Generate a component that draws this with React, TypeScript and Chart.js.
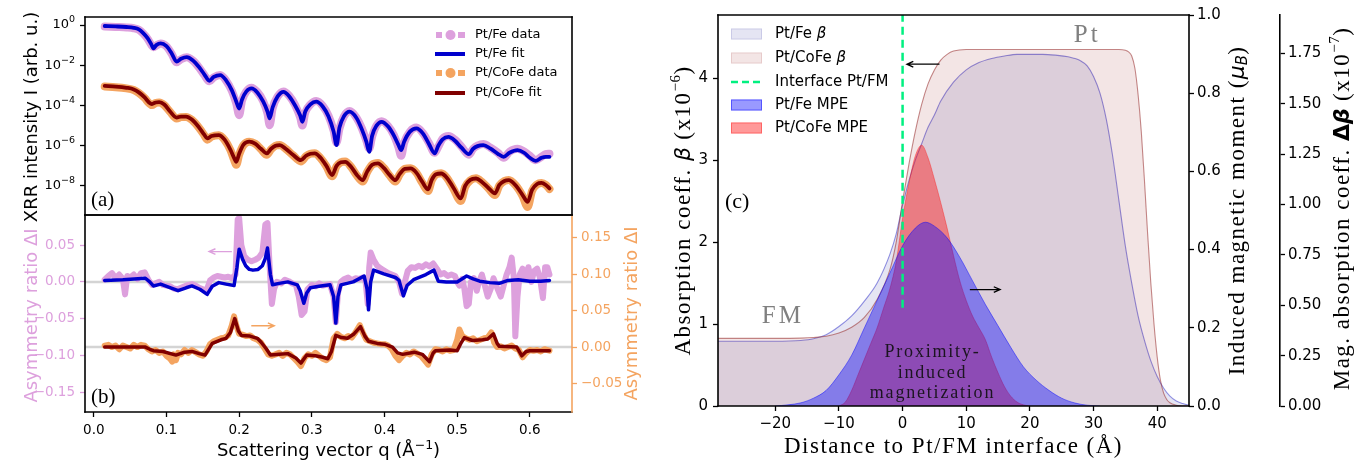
import React, { useEffect, useRef } from 'react';
import { Chart, registerables } from 'chart.js';

Chart.register(...registerables);

const SANS = '"DejaVu Sans", sans-serif';
const SERIF = '"Liberation Serif", "DejaVu Serif", serif';
const PLUM = '#dda0dd';
const SANDY = '#f4a460';
const FIT_BLUE = '#0000cd';
const FIT_RED = '#800000';
const MINUS = '\u2212';

// ---------------- Panel (a): XRR intensity (log10 of I) ----------------
const qFe = [0.015,0.03,0.045,0.055,0.062,0.068,0.074,0.079,0.082,0.086,
  0.092,0.1,0.107,0.114,0.12,0.128,0.136,0.145,0.152,0.159,
  0.165,0.174,0.182,0.19,0.196,0.2,0.204,0.21,0.217,0.225,
  0.233,0.239,0.242,0.246,0.253,0.261,0.269,0.277,0.284,0.287,
  0.291,0.298,0.306,0.315,0.323,0.33,0.334,0.338,0.344,0.352,
  0.361,0.369,0.375,0.379,0.383,0.389,0.396,0.405,0.413,0.419,
  0.423,0.427,0.435,0.444,0.453,0.461,0.469,0.474,0.48,0.488,
  0.497,0.506,0.516,0.522,0.528,0.536,0.546,0.556,0.564,0.572,
  0.583,0.592,0.6,0.608,0.616,0.622,0.627];
const feFitExp = [-0.05,-0.07,-0.10,-0.14,-0.22,-0.40,-0.65,-0.95,-1.16,-1.00,
  -0.91,-1.05,-1.40,-1.82,-1.68,-1.60,-1.75,-2.10,-2.45,-2.77,
  -2.58,-2.49,-2.75,-3.25,-3.80,-4.15,-3.70,-3.30,-3.15,-3.35,
  -3.80,-4.30,-4.64,-4.10,-3.55,-3.32,-3.55,-4.00,-4.50,-4.81,
  -4.30,-3.95,-3.81,-4.05,-4.55,-5.30,-5.97,-5.10,-4.55,-4.31,
  -4.60,-5.20,-5.80,-6.30,-5.50,-5.00,-4.81,-5.05,-5.50,-5.95,
  -6.22,-5.80,-5.30,-5.14,-5.40,-5.90,-6.38,-6.00,-5.68,-5.56,
  -5.75,-6.10,-6.42,-6.15,-6.02,-5.97,-6.15,-6.40,-6.55,-6.35,
  -6.22,-6.35,-6.60,-6.75,-6.60,-6.55,-6.55];
const feDataExp = [-0.08,-0.10,-0.12,-0.16,-0.24,-0.42,-0.68,-0.98,-1.10,-1.02,
  -0.92,-1.06,-1.42,-1.85,-1.70,-1.60,-1.76,-2.12,-2.48,-2.80,
  -2.60,-2.48,-2.76,-3.28,-3.90,-4.48,-3.75,-3.30,-3.12,-3.33,
  -3.78,-4.40,-4.98,-4.15,-3.55,-3.30,-3.52,-3.98,-4.60,-5.00,
  -4.35,-3.95,-3.78,-4.02,-4.52,-5.25,-5.85,-5.15,-4.55,-4.28,
  -4.58,-5.15,-5.75,-6.15,-5.55,-5.00,-4.78,-5.02,-5.48,-6.05,
  -6.50,-5.85,-5.30,-5.10,-5.38,-5.85,-6.35,-6.05,-5.65,-5.52,
  -5.70,-6.05,-6.45,-6.15,-6.00,-5.92,-6.10,-6.35,-6.60,-6.30,
  -6.15,-6.28,-6.50,-6.72,-6.55,-6.42,-6.40];
const qCoFe = [0.015,0.03,0.045,0.055,0.062,0.07,0.076,0.08,0.085,0.09,
  0.097,0.105,0.114,0.12,0.127,0.135,0.145,0.152,0.156,0.162,
  0.172,0.18,0.188,0.193,0.196,0.2,0.206,0.214,0.222,0.23,
  0.238,0.244,0.25,0.256,0.264,0.274,0.285,0.292,0.298,0.304,
  0.312,0.32,0.328,0.334,0.34,0.346,0.354,0.362,0.37,0.376,
  0.383,0.391,0.399,0.407,0.415,0.421,0.428,0.436,0.444,0.452,
  0.46,0.465,0.471,0.478,0.486,0.495,0.505,0.511,0.518,0.526,
  0.534,0.543,0.552,0.558,0.565,0.571,0.58,0.59,0.597,0.603,
  0.61,0.616,0.622,0.627];
const cofeFitExp = [-3.03,-3.06,-3.12,-3.20,-3.35,-3.60,-3.85,-3.93,-3.85,-3.83,
  -3.95,-4.30,-4.60,-4.55,-4.55,-4.70,-5.10,-5.45,-5.64,-5.52,
  -5.47,-5.70,-6.20,-6.60,-6.80,-6.40,-5.95,-5.80,-5.90,-6.15,
  -6.38,-6.15,-6.00,-5.97,-6.15,-6.45,-6.72,-6.50,-6.40,-6.38,
  -6.60,-7.00,-7.46,-7.00,-6.82,-6.80,-7.05,-7.45,-7.71,-7.30,
  -6.95,-6.88,-7.10,-7.45,-7.71,-7.40,-7.15,-7.13,-7.35,-7.80,
  -8.17,-7.70,-7.42,-7.38,-7.60,-8.10,-8.62,-8.00,-7.70,-7.63,
  -7.80,-8.10,-8.37,-7.95,-7.75,-7.71,-7.95,-8.45,-8.79,-8.20,
  -7.90,-7.85,-7.95,-8.12];
const cofeDataExp = [-3.06,-3.09,-3.15,-3.23,-3.38,-3.63,-3.88,-3.98,-3.88,-3.85,
  -3.98,-4.32,-4.65,-4.58,-4.57,-4.72,-5.12,-5.48,-5.70,-5.55,
  -5.48,-5.72,-6.22,-6.70,-6.95,-6.45,-5.97,-5.80,-5.90,-6.17,
  -6.45,-6.18,-6.00,-5.96,-6.15,-6.47,-6.78,-6.52,-6.40,-6.37,
  -6.62,-7.02,-7.52,-7.02,-6.82,-6.78,-7.05,-7.48,-7.78,-7.32,
  -6.95,-6.86,-7.10,-7.48,-7.78,-7.42,-7.15,-7.12,-7.35,-7.85,
  -8.25,-7.72,-7.42,-7.37,-7.60,-8.15,-8.75,-8.05,-7.72,-7.62,
  -7.80,-8.12,-8.45,-7.98,-7.75,-7.70,-7.95,-8.50,-9.04,-8.25,
  -7.92,-7.85,-7.95,-8.15];
const xrrTickExps = [0, -2, -4, -6, -8];

// ---------------- Panel (b): asymmetry ratio ----------------
const qFeAsymData = [0.015,0.02,0.025,0.03,0.035,0.04,0.043,0.046,0.05,0.055,
  0.06,0.065,0.07,0.075,0.08,0.085,0.09,0.095,0.1,0.105,
  0.11,0.115,0.12,0.125,0.13,0.135,0.14,0.145,0.15,0.155,
  0.16,0.165,0.17,0.175,0.18,0.185,0.19,0.195,0.198,0.2,
  0.203,0.207,0.212,0.217,0.222,0.227,0.232,0.236,0.239,0.242,
  0.245,0.248,0.252,0.258,0.263,0.268,0.273,0.278,0.282,0.286,
  0.29,0.294,0.3,0.305,0.31,0.315,0.32,0.325,0.33,0.333,
  0.336,0.34,0.345,0.35,0.355,0.36,0.365,0.37,0.374,0.377,
  0.379,0.381,0.385,0.39,0.395,0.4,0.405,0.41,0.415,0.42,
  0.424,0.428,0.432,0.437,0.442,0.447,0.452,0.457,0.462,0.467,
  0.472,0.477,0.482,0.487,0.492,0.497,0.5,0.503,0.507,0.51,
  0.513,0.516,0.519,0.523,0.527,0.53,0.534,0.538,0.542,0.546,
  0.55,0.555,0.56,0.564,0.568,0.572,0.575,0.578,0.58,0.583,
  0.586,0.59,0.594,0.598,0.602,0.606,0.61,0.614,0.618,0.621,
  0.624,0.627];
const feAsymData = [0.003,0.008,0.012,0.005,0.01,0.004,-0.017,0.008,0.006,0.01,
  0.004,0.012,0.013,0.003,-0.004,-0.002,0.0,-0.004,-0.005,-0.006,
  -0.009,-0.01,-0.008,-0.006,-0.004,-0.003,-0.005,-0.008,-0.01,-0.012,
  0.002,0.006,0.008,0.007,0.006,0.007,0.005,0.01,0.085,0.087,
  0.05,0.035,0.03,0.028,0.03,0.033,0.04,0.078,0.08,0.02,
  -0.03,-0.01,0.0,-0.002,0.003,0.001,-0.002,-0.004,-0.02,-0.045,
  -0.04,-0.01,-0.004,-0.006,-0.002,-0.005,-0.004,-0.003,-0.02,-0.055,
  -0.015,0.0,0.004,0.006,0.002,0.005,0.004,0.006,0.0,-0.03,
  0.02,0.04,0.03,0.022,0.018,0.015,0.012,0.01,0.008,0.0,
  -0.016,0.0,0.015,0.02,0.019,0.022,0.02,0.024,0.021,0.025,
  0.018,0.01,0.012,0.008,0.01,0.008,0.0,-0.005,0.004,-0.01,
  -0.033,-0.03,0.0,0.005,-0.012,0.0,0.01,-0.005,-0.02,-0.01,
  0.005,-0.008,-0.02,-0.005,0.01,0.02,0.033,0.005,-0.074,-0.02,
  0.01,0.018,0.005,0.02,0.0,0.015,0.018,0.005,-0.022,0.02,
  0.02,0.01];
const qFeAsymFit = [0.015,0.04,0.071,0.077,0.082,0.092,0.103,0.116,0.127,0.135,
  0.146,0.156,0.163,0.172,0.182,0.193,0.197,0.2,0.205,0.209,
  0.214,0.219,0.226,0.232,0.236,0.239,0.243,0.246,0.255,0.267,
  0.28,0.284,0.289,0.293,0.298,0.31,0.325,0.33,0.333,0.336,
  0.34,0.357,0.372,0.376,0.378,0.381,0.385,0.399,0.415,0.42,
  0.426,0.431,0.44,0.457,0.468,0.474,0.485,0.5,0.513,0.522,
  0.531,0.545,0.558,0.57,0.584,0.6,0.615,0.627];
const feAsymFit = [0.002,0.003,0.005,0.0,-0.0055,-0.003,-0.007,-0.012,-0.008,-0.0055,
  -0.01,-0.017,-0.006,-0.001,-0.003,-0.005,0.02,0.0445,0.03,0.022,
  0.017,0.016,0.017,0.022,0.032,0.046,0.01,-0.004,-0.002,0.0,
  -0.004,-0.012,-0.029,-0.015,-0.008,-0.006,-0.004,-0.02,-0.056,-0.02,
  -0.004,0.0,0.008,-0.01,-0.038,0.0,0.016,0.011,0.006,0.002,
  -0.019,-0.005,0.003,0.01,0.016,0.001,0.0,0.0,0.008,0.004,
  0.001,-0.001,-0.002,0.002,0.003,0.001,0.001,0.002];
const qCoFeAsymData = [0.015,0.02,0.025,0.03,0.035,0.04,0.045,0.05,0.055,0.06,
  0.065,0.07,0.075,0.08,0.085,0.09,0.095,0.1,0.105,0.108,
  0.11,0.113,0.116,0.12,0.125,0.13,0.135,0.14,0.145,0.15,
  0.155,0.16,0.165,0.17,0.175,0.18,0.185,0.19,0.193,0.196,
  0.2,0.205,0.21,0.215,0.22,0.225,0.23,0.235,0.24,0.245,
  0.25,0.255,0.26,0.265,0.27,0.275,0.28,0.285,0.29,0.295,
  0.3,0.305,0.31,0.315,0.32,0.325,0.33,0.335,0.34,0.345,
  0.35,0.355,0.36,0.366,0.37,0.375,0.38,0.385,0.39,0.395,
  0.4,0.405,0.41,0.415,0.42,0.425,0.43,0.435,0.44,0.445,
  0.45,0.455,0.46,0.465,0.47,0.475,0.48,0.485,0.49,0.495,
  0.5,0.503,0.507,0.512,0.517,0.522,0.527,0.532,0.537,0.542,
  0.547,0.551,0.555,0.56,0.565,0.57,0.575,0.58,0.585,0.59,
  0.595,0.6,0.605,0.61,0.615,0.62,0.627];
const cofeAsymData = [0.002,0.003,0.0,0.002,-0.003,0.002,0.0,-0.002,0.003,0.0,
  0.003,0.002,-0.003,-0.006,-0.004,-0.008,-0.006,-0.012,-0.016,-0.02,
  -0.01,-0.018,-0.008,-0.01,-0.004,-0.008,-0.004,-0.007,-0.01,-0.012,
  -0.006,0.004,0.008,0.01,0.012,0.013,0.016,0.03,0.042,0.03,
  0.018,0.017,0.015,0.016,0.012,0.01,0.006,-0.002,-0.01,-0.012,
  -0.01,-0.008,-0.012,-0.008,-0.01,-0.015,-0.02,-0.026,-0.015,-0.01,
  -0.012,-0.008,-0.012,-0.016,-0.018,-0.014,0.012,0.018,0.014,0.012,
  0.015,0.013,0.02,0.03,0.02,0.01,0.008,0.006,0.005,0.004,
  0.004,0.002,-0.003,-0.012,-0.018,-0.012,-0.008,-0.01,-0.006,-0.009,
  -0.012,-0.018,-0.024,-0.01,-0.003,-0.004,-0.006,-0.003,-0.005,-0.004,
  0.01,0.024,0.015,0.012,0.01,0.012,0.008,0.01,0.012,0.013,
  0.02,0.006,0.0,0.001,-0.002,0.0,0.002,-0.002,-0.004,-0.014,
  -0.008,-0.004,-0.005,-0.004,-0.006,-0.003,-0.005];
const qCoFeAsymFit = [0.015,0.071,0.077,0.082,0.095,0.113,0.125,0.135,0.145,0.153,
  0.163,0.175,0.182,0.188,0.194,0.199,0.203,0.215,0.225,0.23,
  0.237,0.243,0.255,0.267,0.278,0.285,0.293,0.305,0.315,0.322,
  0.327,0.333,0.341,0.349,0.358,0.367,0.373,0.378,0.39,0.4,
  0.411,0.418,0.425,0.441,0.452,0.462,0.467,0.47,0.49,0.5,
  0.505,0.51,0.521,0.535,0.542,0.55,0.555,0.558,0.582,0.589,
  0.595,0.6,0.627];
const cofeAsymFit = [0.0,0.0,-0.003,-0.005,-0.006,-0.011,-0.007,-0.006,-0.009,-0.011,
  0.005,0.01,0.012,0.02,0.039,0.022,0.016,0.015,0.012,0.007,
  -0.002,-0.011,-0.01,-0.009,-0.015,-0.022,-0.011,-0.012,-0.014,-0.016,
  -0.006,0.016,0.013,0.012,0.018,0.028,0.015,0.008,0.005,0.004,
  0.0,-0.008,-0.01,-0.007,-0.01,-0.02,-0.008,-0.005,-0.004,-0.005,
  0.005,0.013,0.009,0.01,0.011,0.018,0.005,0.001,0.0,-0.012,
  -0.006,-0.005,-0.005];

// ---------------- Panel (c): depth profiles ----------------
const xFeBeta = [-29,-24,-20,-16,-14,-12,-10,-8,-6,-4,-2,-1,0,1,2,3,4,5,6,8,
  10,12,14,16,18,20,22,24,26,28,29,30,31,32,33,34,35,36,37,38,39,40,41,42,43,44,45];
const feBeta = [0.79,0.79,0.79,0.80,0.82,0.87,0.97,1.10,1.28,1.50,1.85,2.10,2.45,2.75,3.00,3.20,3.40,3.55,3.72,3.95,
  4.10,4.19,4.24,4.27,4.29,4.29,4.29,4.28,4.26,4.21,4.15,4.02,3.82,3.50,3.05,2.50,1.95,1.50,1.10,0.80,0.55,0.36,0.22,0.12,0.06,0.03,0.01];
const xCoFeBeta = [-29,-20,-16,-14,-12,-10,-8,-6,-4,-2,-1,0,1,2,3,4,5,6,7,8,
  10,15,20,25,30,34,35,35.5,36,36.5,37,37.5,38,38.5,39,39.5,40,40.5,41,41.5,42,43,44,45];
const cofeBeta = [0.825,0.825,0.828,0.835,0.85,0.89,0.96,1.08,1.30,1.66,2.00,2.50,2.95,3.35,3.68,3.93,4.10,4.22,4.29,4.33,
  4.35,4.35,4.35,4.35,4.35,4.35,4.34,4.32,4.27,4.12,3.80,3.35,2.75,2.10,1.50,1.00,0.60,0.32,0.16,0.08,0.04,0.01,0.0,0.0];
const xCoFeMPE = [-10,-9,-8,-7,-6,-5,-4,-3,-2,-1,0,1,2,3,4,5,6,7,8,9,10,11,12,13,14,15,16,17,18,19,20];
const cofeMPE = [0,0.01,0.04,0.08,0.12,0.16,0.2,0.25,0.3,0.37,0.48,0.57,0.64,0.667,0.635,0.58,0.52,0.455,0.385,0.32,
  0.27,0.23,0.2,0.17,0.125,0.085,0.05,0.025,0.01,0.003,0];
const xFeMPE = [-20,-18,-16,-14,-12,-10,-8,-6,-4,-2,0,2,3.6,5,7,9,11,13,15,17,19,21,23,25,27,29,31];
const feMPE = [0,0.003,0.008,0.02,0.04,0.08,0.13,0.2,0.27,0.34,0.41,0.455,0.47,0.46,0.43,0.38,0.32,0.26,0.205,0.15,
  0.1,0.066,0.04,0.02,0.008,0.002,0];
const interfaceX = [0, 0];
const interfaceY = [1.2, 4.77];

// axis limits
const Q_MIN = -0.0121, Q_MAX = 0.658;

const pts = (xs: number[], ys: number[]) => xs.map((x, i) => ({ x, y: ys[i] }));
const pow10 = (e: number) => Math.pow(10, e);
const fmt = (v: number, d: number) => (v < -1e-9 ? MINUS : '') + Math.abs(v).toFixed(d);

type Seg = { t: string; f: string; dy?: number; ls?: number };
function rich(ctx: CanvasRenderingContext2D, segs: Seg[], x: number, y: number, rot: number, color: string, ls = 0, align = 'center') {
  const c: any = ctx;
  ctx.save();
  ctx.translate(x, y);
  ctx.rotate(rot);
  ctx.fillStyle = color;
  ctx.textBaseline = 'middle';
  ctx.textAlign = 'left';
  const widths = segs.map((s) => { ctx.font = s.f; c.letterSpacing = (s.ls ?? ls) + 'px'; return ctx.measureText(s.t).width; });
  const total = widths.reduce((a, b) => a + b, 0);
  let cx = align === 'center' ? -total / 2 : align === 'right' ? -total : 0;
  segs.forEach((s, i) => { ctx.font = s.f; c.letterSpacing = (s.ls ?? ls) + 'px'; ctx.fillText(s.t, cx, s.dy || 0); cx += widths[i]; });
  c.letterSpacing = '0px';
  ctx.restore();
}

function arrow(ctx: CanvasRenderingContext2D, x1: number, y1: number, x2: number, y2: number, color: string, lw = 1.3, head = 7) {
  const a = Math.atan2(y2 - y1, x2 - x1);
  ctx.save();
  ctx.strokeStyle = color;
  ctx.lineWidth = lw;
  ctx.beginPath();
  ctx.moveTo(x1, y1); ctx.lineTo(x2, y2);
  ctx.moveTo(x2 - head * Math.cos(a - 0.42), y2 - head * Math.sin(a - 0.42));
  ctx.lineTo(x2, y2);
  ctx.lineTo(x2 - head * Math.cos(a + 0.42), y2 - head * Math.sin(a + 0.42));
  ctx.stroke();
  ctx.restore();
}

function frame(ctx: CanvasRenderingContext2D, a: any, cols: { l: string; t: string; r: string; b: string }, lw = 1.6) {
  const seg = (x1: number, y1: number, x2: number, y2: number, c: string) => {
    ctx.strokeStyle = c; ctx.beginPath(); ctx.moveTo(x1, y1); ctx.lineTo(x2, y2); ctx.stroke();
  };
  ctx.save();
  ctx.lineWidth = lw;
  ctx.lineCap = 'square';
  seg(a.left, a.top, a.right, a.top, cols.t);
  seg(a.left, a.bottom, a.right, a.bottom, cols.b);
  seg(a.left, a.top, a.left, a.bottom, cols.l);
  seg(a.right, a.top, a.right, a.bottom, cols.r);
  ctx.restore();
}

const tickGrid = (color: string, len = 5) => ({ drawOnChartArea: false, drawTicks: true, tickLength: len, tickColor: color, tickWidth: 1.3, color });

function makeA(canvas: HTMLCanvasElement) {
  const line = { pointRadius: 0, fill: false, cubicInterpolationMode: 'monotone', borderCapStyle: 'round', borderJoinStyle: 'round' };
  const plugin = {
    id: 'annA',
    afterDatasetsDraw(chart: any) {
      frame(chart.ctx, chart.chartArea, { l: '#000', t: '#000', r: '#000', b: '#000' });
    },
    afterDraw(chart: any) {
      const ctx = chart.ctx as CanvasRenderingContext2D;
      const ys = chart.scales.y;
      xrrTickExps.forEach((e) => {
        const py = ys.getPixelForValue(pow10(e));
        rich(ctx, [{ t: '10', f: `13px ${SANS}` }, { t: e === 0 ? '0' : MINUS + String(-e), f: `9.5px ${SANS}`, dy: -5 }], 75, py, 0, '#000', 0, 'right');
      });
      const rows = [35, 54, 73, 93];
      const dataSw = (y: number, col: string) => {
        ctx.fillStyle = col;
        ctx.fillRect(436, y - 3, 6, 6);
        ctx.fillRect(458, y - 3, 7, 6);
        ctx.beginPath(); ctx.arc(450.5, y, 5, 0, Math.PI * 2); ctx.fill();
      };
      const fitSw = (y: number, col: string) => {
        ctx.strokeStyle = col; ctx.lineWidth = 4; ctx.beginPath(); ctx.moveTo(435, y); ctx.lineTo(465, y); ctx.stroke();
      };
      ctx.save();
      dataSw(rows[0], PLUM); fitSw(rows[1], FIT_BLUE); dataSw(rows[2], SANDY); fitSw(rows[3], FIT_RED);
      ctx.restore();
      ['Pt/Fe data', 'Pt/Fe fit', 'Pt/CoFe data', 'Pt/CoFe fit'].forEach((t, i) =>
        rich(ctx, [{ t, f: `13px ${SANS}` }], 475, rows[i], 0, '#000', 0, 'left'));
      rich(ctx, [{ t: '(a)', f: `21px ${SERIF}` }], 91, 200, 0, '#000', 0, 'left');
      rich(ctx, [{ t: 'XRR intensity I (arb. u.)', f: `18px ${SANS}` }], 32, 117, -Math.PI / 2, '#000');
    },
  };
  return new Chart(canvas, {
    type: 'line',
    data: {
      datasets: [
        { ...line, data: pts(qFe, feDataExp.map(pow10)), borderColor: PLUM, borderWidth: 8, order: 4 },
        { ...line, data: pts(qCoFe, cofeDataExp.map(pow10)), borderColor: SANDY, borderWidth: 8, order: 3 },
        { ...line, data: pts(qFe, feFitExp.map(pow10)), borderColor: FIT_BLUE, borderWidth: 3.8, order: 2 },
        { ...line, data: pts(qCoFe, cofeFitExp.map(pow10)), borderColor: FIT_RED, borderWidth: 3.8, order: 1 },
      ] as any,
    },
    options: {
      responsive: false, animation: false, events: [],
      layout: { padding: { left: 0, right: 118, top: 17, bottom: 17 } },
      plugins: { legend: { display: false }, tooltip: { enabled: false } },
      scales: {
        x: { type: 'linear', min: Q_MIN, max: Q_MAX, display: false },
        y: {
          type: 'logarithmic', min: 3.6e-10, max: 2.5,
          afterFit: (s: any) => { s.width = 85; },
          afterBuildTicks: (s: any) => { s.ticks = xrrTickExps.map((e) => ({ value: pow10(e) })); },
          ticks: { callback: () => '', autoSkip: false },
          grid: tickGrid('#000'),
          border: { display: false },
        },
      },
    } as any,
    plugins: [plugin],
  });
}

// canvas B sits at page y = 195; its chart area starts 20px down (page y 215)
function makeB(canvas: HTMLCanvasElement) {
  const line = { pointRadius: 0, fill: false, tension: 0, borderCapStyle: 'round', borderJoinStyle: 'round' };
  const plugin = {
    id: 'annB',
    beforeDatasetsDraw(chart: any) {
      const ctx = chart.ctx as CanvasRenderingContext2D;
      const a = chart.chartArea;
      ctx.save();
      ctx.strokeStyle = 'rgba(160,160,160,0.45)';
      ctx.lineWidth = 2.5;
      [chart.scales.y.getPixelForValue(0), chart.scales.y1.getPixelForValue(0)].forEach((py) => {
        ctx.beginPath(); ctx.moveTo(a.left, py); ctx.lineTo(a.right, py); ctx.stroke();
      });
      ctx.restore();
    },
    afterDatasetsDraw(chart: any) {
      frame(chart.ctx, chart.chartArea, { l: '#000', t: '#000', r: SANDY, b: '#000' });
    },
    afterDraw(chart: any) {
      const ctx = chart.ctx as CanvasRenderingContext2D;
      const { x, y, y1 } = chart.scales;
      const a = chart.chartArea;
      const cy = (a.top + a.bottom) / 2;
      arrow(ctx, x.getPixelForValue(0.19), y.getPixelForValue(0.0412), x.getPixelForValue(0.1586), y.getPixelForValue(0.0412), PLUM, 1.4);
      arrow(ctx, x.getPixelForValue(0.2167), y1.getPixelForValue(0.0292), x.getPixelForValue(0.2483), y1.getPixelForValue(0.0292), SANDY, 1.4);
      rich(ctx, [{ t: '(b)', f: `21px ${SERIF}` }], 91, a.bottom - 15, 0, '#000', 0, 'left');
      rich(ctx, [{ t: 'Asymmetry ratio \u0394I', f: `18px ${SANS}` }], 32, cy + 2, -Math.PI / 2, PLUM);
      rich(ctx, [{ t: 'Asymmetry ratio \u0394I', f: `18px ${SANS}` }], 632, cy, -Math.PI / 2, SANDY);
      rich(ctx, [
        { t: 'Scattering vector q (\u00c5', f: `18px ${SANS}` },
        { t: MINUS + '1', f: `12.5px ${SANS}`, dy: -6 },
        { t: ')', f: `18px ${SANS}` },
      ], (a.left + a.right) / 2, a.bottom + 39.5, 0, '#000');
    },
  };
  const tickFont = { family: SANS, size: 13.5 };
  return new Chart(canvas, {
    type: 'line',
    data: {
      datasets: [
        { ...line, data: pts(qFeAsymData, feAsymData), borderColor: PLUM, borderWidth: 6, yAxisID: 'y', order: 4 },
        { ...line, data: pts(qCoFeAsymData, cofeAsymData), borderColor: SANDY, borderWidth: 6, yAxisID: 'y1', order: 3 },
        { ...line, data: pts(qFeAsymFit, feAsymFit), borderColor: FIT_BLUE, borderWidth: 3.5, yAxisID: 'y', order: 2 },
        { ...line, data: pts(qCoFeAsymFit, cofeAsymFit), borderColor: FIT_RED, borderWidth: 3.5, yAxisID: 'y1', order: 1 },
      ] as any,
    },
    options: {
      responsive: false, animation: false, events: [],
      layout: { padding: { top: 20, bottom: 0, left: 0, right: 0 } },
      plugins: { legend: { display: false }, tooltip: { enabled: false } },
      scales: {
        x: {
          type: 'linear', min: Q_MIN, max: Q_MAX,
          afterFit: (s: any) => { s.height = 55; },
          ticks: { stepSize: 0.1, includeBounds: false, autoSkip: false, maxRotation: 0, callback: (v: any) => fmt(+v, 1), font: tickFont, color: '#000', padding: 5 },
          grid: tickGrid('#000'), border: { display: false },
        },
        y: {
          type: 'linear', position: 'left', min: -0.177, max: 0.091,
          afterFit: (s: any) => { s.width = 85; },
          ticks: { stepSize: 0.05, includeBounds: false, autoSkip: false, callback: (v: any) => fmt(+v, 2), font: tickFont, color: PLUM, padding: 5 },
          grid: tickGrid(PLUM), border: { display: false },
        },
        y1: {
          type: 'linear', position: 'right', min: -0.089, max: 0.181,
          afterFit: (s: any) => { s.width = 118; },
          ticks: { stepSize: 0.05, includeBounds: false, autoSkip: false, callback: (v: any) => fmt(+v, 2), font: tickFont, color: SANDY, padding: 4 },
          grid: tickGrid(SANDY), border: { display: false },
        },
      },
    } as any,
    plugins: [plugin],
  });
}

// canvas C sits at page x = 650
function makeC(canvas: HTMLCanvasElement) {
  const FE_BETA_FILL = 'rgba(0,0,139,0.1)';
  const COFE_BETA_FILL = 'rgba(139,0,0,0.1)';
  const FE_MPE_FILL = 'rgba(0,0,255,0.4)';
  const COFE_MPE_FILL = 'rgba(255,0,0,0.4)';
  const GREEN = '#00f080';
  const plugin = {
    id: 'annC',
    afterDatasetsDraw(chart: any) {
      frame(chart.ctx, chart.chartArea, { l: '#000', t: '#000', r: '#000', b: '#000' });
    },
    afterDraw(chart: any) {
      const ctx = chart.ctx as CanvasRenderingContext2D;
      const { x, y } = chart.scales;
      const a = chart.chartArea;
      const px = (v: number) => x.getPixelForValue(v);
      const py = (v: number) => y.getPixelForValue(v);
      const cy = (a.top + a.bottom) / 2;
      // legend
      const L = a.left + 13;
      const rows = [34, 58, 82, 105, 128];
      const sw = (yy: number, fill: string, stroke: string) => {
        ctx.fillStyle = fill; ctx.fillRect(L, yy - 5.5, 31, 11);
        ctx.strokeStyle = stroke; ctx.lineWidth = 1; ctx.strokeRect(L + 0.5, yy - 5, 30, 10);
      };
      ctx.save();
      sw(rows[0], FE_BETA_FILL, 'rgba(0,0,139,0.12)');
      sw(rows[1], COFE_BETA_FILL, 'rgba(139,0,0,0.12)');
      ctx.strokeStyle = GREEN; ctx.lineWidth = 2.5; ctx.setLineDash([7, 4]);
      ctx.beginPath(); ctx.moveTo(L, rows[2]); ctx.lineTo(L + 31, rows[2]); ctx.stroke();
      ctx.setLineDash([]);
      sw(rows[3], FE_MPE_FILL, 'rgba(0,0,255,0.45)');
      sw(rows[4], COFE_MPE_FILL, 'rgba(255,0,0,0.35)');
      ctx.restore();
      const lf = `15px ${SANS}`;
      const lfi = `italic 15px ${SANS}`;
      const TX = L + 44;
      rich(ctx, [{ t: 'Pt/Fe ', f: lf }, { t: '\u03b2', f: lfi }], TX, rows[0], 0, '#000', 0, 'left');
      rich(ctx, [{ t: 'Pt/CoFe ', f: lf }, { t: '\u03b2', f: lfi }], TX, rows[1], 0, '#000', 0, 'left');
      rich(ctx, [{ t: 'Interface Pt/FM', f: lf }], TX, rows[2], 0, '#000', 0, 'left');
      rich(ctx, [{ t: 'Pt/Fe MPE', f: lf }], TX, rows[3], 0, '#000', 0, 'left');
      rich(ctx, [{ t: 'Pt/CoFe MPE', f: lf }], TX, rows[4], 0, '#000', 0, 'left');
      // arrows
      arrow(ctx, px(5.8), py(4.17), px(0.68), py(4.17), '#000', 1.3);
      arrow(ctx, px(10.57), py(1.42), px(15.33), py(1.42), '#000', 1.3);
      // labels
      rich(ctx, [{ t: 'Pt', f: `25px ${SERIF}` }], px(29), py(4.52), 0, '#808080', 3);
      rich(ctx, [{ t: 'FM', f: `25px ${SERIF}` }], px(-18.8), py(1.09), 0, '#808080', 3);
      const pf = `18px ${SERIF}`;
      rich(ctx, [{ t: 'Proximity-', f: pf }], px(4.7), py(0.66), 0, '#1c1420', 1.8);
      rich(ctx, [{ t: 'induced', f: pf }], px(4.7), py(0.40), 0, '#1c1420', 1.8);
      rich(ctx, [{ t: 'magnetization', f: pf }], px(4.7), py(0.16), 0, '#1c1420', 1.8);
      rich(ctx, [{ t: '(c)', f: `22px ${SERIF}` }], a.left + 7, 202, 0, '#000', 0, 'left');
      // axis titles
      const tf = `23px ${SERIF}`;
      rich(ctx, [
        { t: 'Absorption coeff. ', f: tf },
        { t: '\u03b2', f: `italic 22px ${SANS}`, ls: 0 },
        { t: ' (x10', f: tf },
        { t: MINUS + '6', f: `15px ${SERIF}`, dy: -8, ls: 0.5 },
        { t: ')', f: tf },
      ], a.left - 34, cy, -Math.PI / 2, '#000', 1.5);
      rich(ctx, [
        { t: 'Induced magnetic moment (', f: tf },
        { t: '\u03bc', f: `italic 22px ${SANS}`, ls: 0 },
        { t: 'B', f: `italic 15px ${SANS}`, dy: 5, ls: 0 },
        { t: ')', f: tf },
      ], a.right + 49, cy, -Math.PI / 2, '#000', 1.5);
      rich(ctx, [
        { t: 'Mag. absorption coeff. ', f: tf },
        { t: '\u0394', f: `bold 22px ${SANS}`, ls: 0 },
        { t: '\u03b2', f: `bold italic 22px ${SANS}`, ls: 0 },
        { t: ' (x10', f: tf },
        { t: MINUS + '7', f: `15px ${SERIF}`, dy: -8, ls: 0.5 },
        { t: ')', f: tf },
      ], a.right + 154, cy - 2, -Math.PI / 2, '#000', 1.5);
      rich(ctx, [{ t: 'Distance to Pt/FM interface (\u00c5)', f: tf }], (a.left + a.right) / 2, a.bottom + 41, 0, '#000', 1.5);
    },
  };
  const tickFont = { family: SANS, size: 15 };
  const mono = { pointRadius: 0, cubicInterpolationMode: 'monotone' };
  return new Chart(canvas, {
    type: 'line',
    data: {
      datasets: [
        { pointRadius: 0, data: pts(interfaceX, interfaceY), borderColor: GREEN, borderWidth: 2.5, borderDash: [8, 5], fill: false, yAxisID: 'y', order: 1 },
        { ...mono, data: pts(xFeMPE, feMPE), yAxisID: 'y1', fill: 'origin', backgroundColor: FE_MPE_FILL, borderColor: 'rgba(0,0,255,0.45)', borderWidth: 1, order: 2 },
        { ...mono, data: pts(xCoFeMPE, cofeMPE), yAxisID: 'y1', fill: 'origin', backgroundColor: COFE_MPE_FILL, borderColor: 'rgba(255,0,0,0.35)', borderWidth: 1, order: 3 },
        { ...mono, data: pts(xCoFeBeta, cofeBeta), yAxisID: 'y', fill: 'origin', backgroundColor: COFE_BETA_FILL, borderColor: 'rgba(150,40,40,0.55)', borderWidth: 1.1, order: 4 },
        { ...mono, data: pts(xFeBeta, feBeta), yAxisID: 'y', fill: 'origin', backgroundColor: FE_BETA_FILL, borderColor: 'rgba(40,40,200,0.5)', borderWidth: 1.1, order: 5 },
      ] as any,
    },
    options: {
      responsive: false, animation: false, events: [],
      layout: { padding: { top: 15, bottom: 0, left: 0, right: 0 } },
      plugins: { legend: { display: false }, tooltip: { enabled: false } },
      scales: {
        x: {
          type: 'linear', min: -29, max: 45,
          afterFit: (s: any) => { s.height = 61; },
          ticks: { stepSize: 10, includeBounds: false, autoSkip: false, maxRotation: 0, callback: (v: any) => fmt(+v, 0), font: tickFont, color: '#000', padding: 4 },
          grid: tickGrid('#000'), border: { display: false },
        },
        y: {
          type: 'linear', position: 'left', min: 0, max: 4.77,
          afterFit: (s: any) => { s.width = 68; },
          ticks: { stepSize: 1, includeBounds: false, autoSkip: false, callback: (v: any) => fmt(+v, 0), font: tickFont, color: '#000', padding: 5 },
          grid: tickGrid('#000'), border: { display: false },
        },
        y1: {
          type: 'linear', position: 'right', min: 0, max: 1, weight: 0,
          afterFit: (s: any) => { s.width = 91; },
          ticks: { stepSize: 0.2, includeBounds: false, autoSkip: false, callback: (v: any) => fmt(+v, 1), font: tickFont, color: '#000', padding: 3 },
          grid: tickGrid('#000'), border: { display: false },
        },
        y2: {
          type: 'linear', position: 'right', min: 0, max: 1.94, weight: 1,
          afterFit: (s: any) => { s.width = 88; },
          ticks: { stepSize: 0.25, includeBounds: false, autoSkip: false, callback: (v: any) => fmt(+v, 2), font: tickFont, color: '#000', padding: 3 },
          grid: tickGrid('#000'), border: { display: true, color: '#000', width: 1.6 },
        },
      },
    } as any,
    plugins: [plugin],
  });
}

export default function App() {
  const aRef = useRef<HTMLCanvasElement>(null);
  const bRef = useRef<HTMLCanvasElement>(null);
  const cRef = useRef<HTMLCanvasElement>(null);
  useEffect(() => {
    const charts = [makeB(bRef.current!), makeA(aRef.current!), makeC(cRef.current!)];
    return () => charts.forEach((c) => c.destroy());
  }, []);
  return (
    <div style={{ position: 'absolute', left: 0, top: 0, width: 1368, height: 467, background: '#fff', overflow: 'hidden' }}>
      <canvas ref={bRef} width={690} height={272} style={{ position: 'absolute', left: 0, top: 195 }} />
      <canvas ref={aRef} width={690} height={232} style={{ position: 'absolute', left: 0, top: 0 }} />
      <canvas ref={cRef} width={718} height={467} style={{ position: 'absolute', left: 650, top: 0 }} />
    </div>
  );
}
